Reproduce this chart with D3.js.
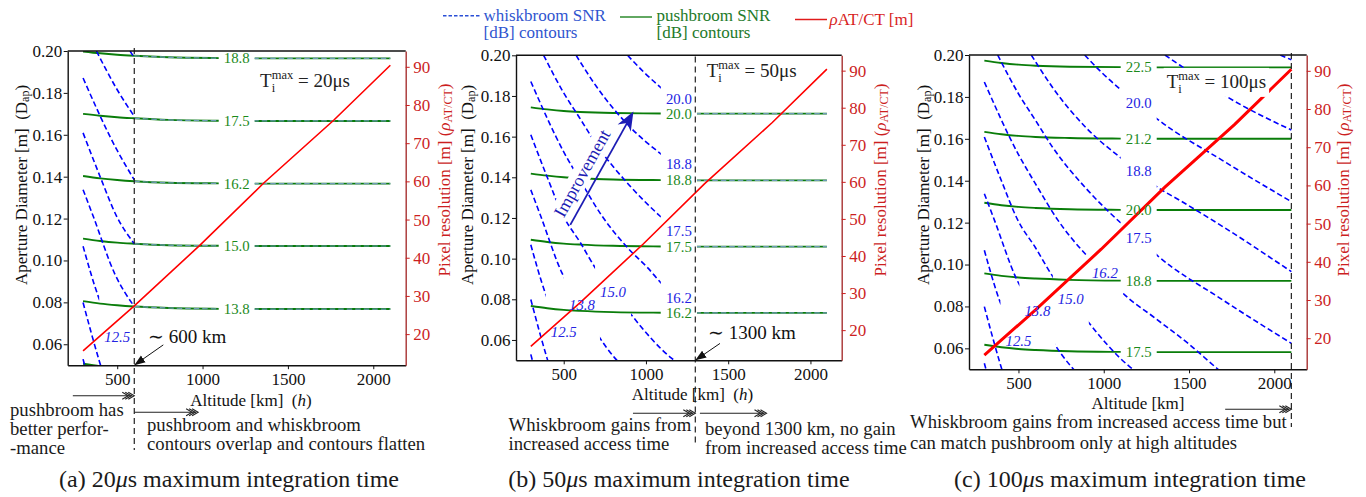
<!DOCTYPE html>
<html>
<head>
<meta charset="utf-8">
<script src="https://cdn.jsdelivr.net/npm/d3@7"></script>
<style>
  body { margin: 0; background: #fff; }
  svg text { font-family: "Liberation Serif", "Times New Roman", serif; }
</style>
</head>
<body>
<svg id="chart" width="1366" height="497"></svg>
<script>
// ---- data ----
const altitudeTicks = [500, 1000, 1500, 2000];
const diameterTicks = [0.06, 0.08, 0.10, 0.12, 0.14, 0.16, 0.18, 0.20];
const resolutionTicks = [20, 30, 40, 50, 60, 70, 80, 90];

const redAltitude = [300, 600, 985, 1357, 1768, 2100];
const redResolution = [15.6, 27.4, 43.3, 59.5, 76.0, 90.4];

const levels = [10, 11.25, 12.5, 13.75, 15, 16.25, 17.5, 18.75, 20, 21.25, 22.5];
const levelText = ['10.0', '11.2', '12.5', '13.8', '15.0', '16.2', '17.5', '18.8', '20.0', '21.2', '22.5'];

// whiskbroom SNR contours [altitude km, aperture m] before the access-time cap
const whisk10 = [[300, 0.0529], [320, 0.0468]];
const whisk11 = [[300, 0.0799], [398, 0.0512], [410, 0.0480]];
const whisk12 = [[300, 0.1068], [388, 0.0831], [500, 0.0636], [600, 0.0480]];
const whisk13 = [[300, 0.1338], [359, 0.1212], [487, 0.0934], [600, 0.0780], [702, 0.0632], [810, 0.0512], [840, 0.0485]];
const whisk15 = [[300, 0.1609], [400, 0.1400], [496, 0.1212], [600, 0.1080], [702, 0.0942], [807, 0.0835], [908, 0.0727], [1153, 0.0512], [1180, 0.0495]];
const whisk16 = [[300, 0.1871], [500, 0.1525], [600, 0.1385], [731, 0.1212], [898, 0.1045], [1007, 0.0958], [1104, 0.0870], [1300, 0.0745], [1500, 0.0620], [1663, 0.0505], [1700, 0.0480]];
const whisk17 = [[378, 0.2000], [500, 0.1815], [600, 0.1688], [700, 0.1560], [900, 0.1360], [1094, 0.1203], [1205, 0.1125], [1300, 0.1053], [1700, 0.0830], [2100, 0.0624]];
const whisk18 = [[575, 0.2000], [600, 0.1968], [700, 0.1845], [900, 0.1650], [1094, 0.1513], [1205, 0.1446], [1300, 0.1378], [1447, 0.1306], [1700, 0.1180], [2100, 0.0966]];
const whisk20 = [[888, 0.2000], [990, 0.1915], [1094, 0.1839], [1205, 0.1770], [1300, 0.1704], [1700, 0.1495], [2100, 0.1300]];
const whisk21 = [[1359, 0.2000], [1447, 0.1951], [1722, 0.1801], [2100, 0.1642]];
const whisk22 = [[2035, 0.2000], [2100, 0.1977]];
const whiskCurves = [whisk10, whisk11, whisk12, whisk13, whisk15, whisk16, whisk17, whisk18, whisk20, whisk21, whisk22];

// pushbroom SNR contours, aperture at each altitude
const pushAltitude = [300, 400, 500, 600, 800, 1100, 1300, 2100];
const pushLevelsA = [12.5, 13.75, 15, 16.25, 17.5, 18.75];
const pushDiamA = [
  [0.0507, 0.0495, 0.0487, 0.0482, 0.0475, 0.0471, 0.0470, 0.0470],
  [0.0806, 0.0794, 0.0786, 0.0780, 0.0773, 0.0769, 0.0768, 0.0768],
  [0.1104, 0.1093, 0.1085, 0.1080, 0.1073, 0.1070, 0.1069, 0.1069],
  [0.1403, 0.1392, 0.1384, 0.1378, 0.1371, 0.1368, 0.1367, 0.1367],
  [0.1700, 0.1691, 0.1684, 0.1679, 0.1671, 0.1667, 0.1666, 0.1666],
  [0.1998, 0.1989, 0.1982, 0.1977, 0.1970, 0.1966, 0.1965, 0.1965]
];
const pushLevelsB = [16.25, 17.5, 18.75, 20];
const pushDiamB = [
  [0.0767, 0.0756, 0.0748, 0.0743, 0.0737, 0.0734, 0.0733, 0.0733],
  [0.1093, 0.1082, 0.1074, 0.1069, 0.1063, 0.1060, 0.1059, 0.1059],
  [0.1418, 0.1408, 0.1400, 0.1395, 0.1389, 0.1386, 0.1385, 0.1385],
  [0.1744, 0.1734, 0.1726, 0.1721, 0.1716, 0.1714, 0.1713, 0.1713]
];
const pushLevelsC = [17.5, 18.75, 20, 21.25, 22.5];
const pushDiamC = [
  [0.0617, 0.0605, 0.0597, 0.0592, 0.0586, 0.0583, 0.0582, 0.0582],
  [0.0958, 0.0946, 0.0938, 0.0933, 0.0927, 0.0923, 0.0922, 0.0922],
  [0.1295, 0.1283, 0.1275, 0.1270, 0.1264, 0.1261, 0.1260, 0.1260],
  [0.1633, 0.1622, 0.1614, 0.1609, 0.1604, 0.1601, 0.1600, 0.1600],
  [0.1973, 0.1962, 0.1954, 0.1949, 0.1944, 0.1942, 0.1941, 0.1941]
];

// whiskbroom inline labels [level, altitude, aperture]
const whiskLabelsA = [[12.5, 500, 0.0637]];
const whiskLabelsB = [[12.5, 500, 0.0639], [13.75, 611, 0.0772], [15, 800, 0.0836], [16.25, 1200, 0.0808],
  [17.5, 1200, 0.1134], [18.75, 1200, 0.1465], [20, 1200, 0.1785]];
const whiskLabelsC = [[12.5, 500, 0.0636], [13.75, 611, 0.0780], [15, 807, 0.0835], [16.25, 1007, 0.0958],
  [17.5, 1205, 0.1125], [18.75, 1205, 0.1446], [20, 1205, 0.1770]];

const altDomain = [210, 2190], diamDomain = [0.05, 0.20], resDomain = [11.86, 94.14];
const serif = '"Liberation Serif", "Times New Roman", serif';
const W = 1366, H = 497;

const panels = [
  { key: 'a', box: [67.7, 51, 405.7, 365.2], cap: 600, pushLevels: pushLevelsA, pushDiam: pushDiamA, pushLabelAlt: 1200,
    whiskLabels: whiskLabelsA, tAt: [1337, 0.1827], tVal: '20μs', redWidth: 1.6, yTitleX: 21, y2TitleX: 443.5,
    vline: [48, 450], xTitle: [251, 406, true], caption: [229, '(a) 20', 's maximum integration time'] },
  { key: 'b', box: [516, 55.3, 841.7, 360.3], cap: 1300, pushLevels: pushLevelsB, pushDiam: pushDiamB, pushLabelAlt: 1200,
    whiskLabels: whiskLabelsB, tAt: [1369, 0.1892], tVal: '50μs', redWidth: 1.6, yTitleX: 466.5, y2TitleX: 879.5,
    vline: [56.5, 445], xTitle: [692.5, 399.5, true], caption: [679, '(b) 50', 's maximum integration time'] },
  { key: 'c', box: [969, 55, 1306.7, 369.3], cap: Infinity, pushLevels: pushLevelsC, pushDiam: pushDiamC, pushLabelAlt: 1205,
    whiskLabels: whiskLabelsC, tAt: [1369, 0.1843], tVal: '100μs', redWidth: 3, yTitleX: 923, y2TitleX: 1342.5,
    vline: [53, 427], xTitle: [1138, 409, false], caption: [1130, '(c) 100', 's maximum integration time'] }
];

const svg = d3.select('#chart');
const defs = svg.append('defs');

defs.append('marker').attr('id', 'headK').attr('viewBox', '0 0 10 10')
  .attr('refX', 10).attr('refY', 5).attr('markerWidth', 11).attr('markerHeight', 11)
  .attr('markerUnits', 'userSpaceOnUse').attr('orient', 'auto')
  .append('path').attr('d', 'M0,1.3L10,5L0,8.7Z').attr('fill', '#111');

function chevronArrow(g, x1, x2, y) {
  g.append('line').attr('x1', x1).attr('x2', x2 - 2).attr('y1', y).attr('y2', y)
    .attr('stroke', '#222').attr('stroke-width', 1.1);
  for (let i = 0; i < 3; i++) {
    const t = x2 - i * 3;
    g.append('path').attr('d', `M${t - 6},${y - 3.5}L${t},${y}L${t - 6},${y + 3.5}`)
      .attr('fill', 'none').attr('stroke', '#222').attr('stroke-width', 1.1);
  }
}

function multiLine(g, x, y0, step, lines, size) {
  lines.forEach((s, i) => g.append('text').attr('x', x).attr('y', y0 + i * step)
    .attr('font-size', size).attr('fill', '#1a1a1a').text(s));
}

panels.forEach(p => {
  const [L, T, R, B] = p.box;
  const x = d3.scaleLinear().domain(altDomain).range([L, R]);
  const y = d3.scaleLinear().domain(diamDomain).range([B, T]);
  const y2 = d3.scaleLinear().domain(resDomain).range([B, T]);
  const line = d3.line().x(d => x(d[0])).y(d => y(d[1])).curve(d3.curveMonotoneX);
  const g = svg.append('g');

  defs.append('clipPath').attr('id', 'clip-' + p.key)
    .append('rect').attr('x', L).attr('y', T).attr('width', R - L).attr('height', B - T);

  // labels for this panel
  const pushLabels = p.pushLevels.map((lv, i) => ({ lv, h: p.pushLabelAlt, d: p.pushDiam[i][p.pushDiam[i].length - 1], kind: 'push' }))
    .filter(l => l.d > diamDomain[0] + 0.003 && l.d < diamDomain[1]);
  const whiskLabels = p.whiskLabels.map(l => ({ lv: l[0], h: l[1], d: l[2], kind: 'whisk' }));
  const allLabels = pushLabels.concat(whiskLabels);

  // one mask per level: gaps where its inline labels sit
  levels.forEach((lv, li) => {
    const m = defs.append('mask').attr('id', `m-${p.key}-${li}`).attr('maskUnits', 'userSpaceOnUse')
      .attr('x', 0).attr('y', 0).attr('width', W).attr('height', H);
    m.append('rect').attr('width', W).attr('height', H).attr('fill', 'white');
    allLabels.filter(l => l.lv === lv).forEach(l => {
      const hh = l.kind === 'whisk' ? 40 : 12;
      m.append('rect').attr('x', x(l.h) - 18).attr('y', y(l.d) - hh).attr('width', 36).attr('height', 2 * hh).attr('fill', 'black');
    });
  });

  const plot = g.append('g').attr('clip-path', `url(#clip-${p.key})`);

  // pushbroom contours
  p.pushLevels.forEach((lv, i) => {
    const li = levels.indexOf(lv);
    plot.append('path').attr('d', line(pushAltitude.map((h, k) => [h, p.pushDiam[i][k]])))
      .attr('fill', 'none').attr('stroke', '#0a7d0a').attr('stroke-width', 1.9)
      .attr('mask', `url(#m-${p.key}-${li})`);
  });

  // whiskbroom contours
  whiskCurves.forEach((curve, li) => {
    const lv = levels[li];
    const head = curve.filter(d => d[0] <= p.cap);
    if (head.length > 1) {
      plot.append('path').attr('d', line(head)).attr('fill', 'none')
        .attr('stroke', '#0000ff').attr('stroke-width', 1.6).attr('stroke-dasharray', '5.5,3')
        .attr('mask', `url(#m-${p.key}-${li})`);
    }
    const pi = p.pushLevels.indexOf(lv);
    if (p.cap < 2100 && pi >= 0) {
      const tail = pushAltitude.map((h, k) => [h, p.pushDiam[pi][k]]).filter(d => d[0] >= p.cap);
      plot.append('path').attr('d', line(tail)).attr('fill', 'none')
        .attr('stroke', '#7f9fd8').attr('stroke-width', 1.2).attr('stroke-dasharray', '5.5,3')
        .attr('opacity', 0.85).attr('mask', `url(#m-${p.key}-${li})`);
    }
  });

  // inline labels
  allLabels.forEach(l => {
    g.append('text').attr('x', x(l.h)).attr('y', y(l.d)).attr('text-anchor', 'middle')
      .attr('dominant-baseline', 'central').attr('font-size', 14.8)
      .attr('font-style', l.kind === 'whisk' && l.h < 1100 ? 'italic' : 'normal')
      .attr('fill', l.kind === 'whisk' ? '#2323e2' : '#1b8a1b')
      .text(levelText[levels.indexOf(l.lv)]);
  });

  // pixel resolution line
  const redLine = d3.line().x(d => x(d[0])).y(d => y2(d[1]));
  plot.append('path').attr('d', redLine(redAltitude.map((h, i) => [h, redResolution[i]])))
    .attr('fill', 'none').attr('stroke', '#ff0000').attr('stroke-width', p.redWidth);

  // access-time boundary
  const capAlt = p.key === 'a' ? 600 : p.key === 'b' ? 1300 : 2100;
  g.append('line').attr('x1', x(capAlt)).attr('x2', x(capAlt)).attr('y1', p.vline[0]).attr('y2', p.vline[1])
    .attr('stroke', '#222').attr('stroke-width', 1.2).attr('stroke-dasharray', '6,4');

  // Ti max text with white box
  const tt = g.append('text').attr('x', x(p.tAt[0])).attr('y', y(p.tAt[1])).attr('font-size', 19).attr('fill', '#222');
  tt.append('tspan').text('T');
  tt.append('tspan').attr('font-size', 12.5).attr('dy', 5).text('i');
  tt.append('tspan').attr('font-size', 12.5).attr('dx', -3.5).attr('dy', -13).text('max');
  tt.append('tspan').attr('dy', 8).style('white-space', 'pre').text(' = ' + p.tVal);
  const tb = tt.node().getBBox();
  g.insert('rect', () => tt.node()).attr('x', tb.x - 3).attr('y', tb.y - 1).attr('width', tb.width + 6)
    .attr('height', tb.height + 2).attr('fill', '#fff');

  // axes
  const axL = d3.axisLeft(y).tickValues(diameterTicks).tickFormat(d3.format('.2f')).tickSize(4).tickPadding(1.5).tickSizeOuter(0);
  const axB = d3.axisBottom(x).tickValues(altitudeTicks).tickFormat(d3.format('d')).tickSize(4).tickPadding(4).tickSizeOuter(0);
  const axR = d3.axisRight(y2).tickValues(resolutionTicks).tickSize(4).tickPadding(3.5).tickSizeOuter(0);
  const gl = g.append('g').attr('transform', `translate(${L},0)`).call(axL);
  const gb = g.append('g').attr('transform', `translate(0,${B})`).call(axB);
  const gr = g.append('g').attr('transform', `translate(${R},0)`).call(axR);
  [gl, gb].forEach(a => a.attr('font-family', serif).attr('font-size', 17).attr('color', '#111'));
  gr.attr('font-family', serif).attr('font-size', 17).attr('color', '#cc1f1f');
  gr.select('.domain').attr('stroke', '#a83232');
  [gl, gb, gr].forEach(a => a.selectAll('.domain').attr('stroke-width', 1.4));
  g.append('line').attr('x1', L).attr('x2', R).attr('y1', T).attr('y2', T).attr('stroke', '#111').attr('stroke-width', 1.4);

  // axis titles
  const yt = g.append('text').attr('transform', `translate(${p.yTitleX},185) rotate(-90)`)
    .attr('text-anchor', 'middle').attr('dominant-baseline', 'central').attr('font-size', 17)
    .attr('fill', '#111').style('white-space', 'pre');
  yt.append('tspan').text('Aperture Diameter [m]  (D');
  yt.append('tspan').attr('font-size', 12).attr('dy', 4).text('ap');
  yt.append('tspan').attr('dy', -4).text(')');

  const rt = g.append('text').attr('transform', `translate(${p.y2TitleX},180) rotate(-90)`)
    .attr('text-anchor', 'middle').attr('dominant-baseline', 'central').attr('font-size', 17)
    .attr('fill', '#cc1f1f').style('white-space', 'pre');
  rt.append('tspan').text('Pixel resolution [m] (');
  rt.append('tspan').attr('font-style', 'italic').text('ρ');
  rt.append('tspan').attr('font-size', 12).attr('dy', 4).text('AT/CT');
  rt.append('tspan').attr('dy', -4).text(')');

  const xt = g.append('text').attr('x', p.xTitle[0]).attr('y', p.xTitle[1]).attr('text-anchor', 'middle')
    .attr('font-size', 17).attr('fill', '#111').style('white-space', 'pre');
  xt.append('tspan').text(p.xTitle[2] ? 'Altitude [km]  (' : 'Altitude [km]');
  if (p.xTitle[2]) {
    xt.append('tspan').attr('font-style', 'italic').text('h');
    xt.append('tspan').text(')');
  }

  // caption
  const cap = g.append('text').attr('x', p.caption[0]).attr('y', 487).attr('text-anchor', 'middle')
    .attr('font-size', 24).attr('fill', '#1a1a1a');
  cap.append('tspan').text(p.caption[1]);
  cap.append('tspan').attr('font-style', 'italic').text('μ');
  cap.append('tspan').text(p.caption[2]);

  // panel-specific annotations
  if (p.key === 'a') {
    g.append('text').attr('x', x(680)).attr('y', y(0.0607)).attr('font-size', 19).attr('fill', '#111').text('∼ 600 km');
    g.append('line').attr('x1', x(770)).attr('y1', y(0.0597)).attr('x2', x(600)).attr('y2', B)
      .attr('stroke', '#111').attr('stroke-width', 1).attr('marker-end', 'url(#headK)');
    chevronArrow(g, x(240), x(600), 395.7);
    chevronArrow(g, x(600), x(974), 412.3);
    multiLine(g, 10, 416, 19, ['pushbroom has', 'better perfor-', '-mance'], 18.7);
    multiLine(g, 147, 431, 18.5, ['pushbroom and whiskbroom', 'contours overlap and contours flatten'], 18.7);
  }
  if (p.key === 'b') {
    // improvement arrow with boxed text
    const s = [x(540), y(0.1166)], e = [x(924), y(0.1723)];
    const ang = Math.atan2(e[1] - s[1], e[0] - s[0]) * 180 / Math.PI;
    const tg = g.append('g').attr('transform', `translate(${x(612)},${y(0.142)}) rotate(${ang})`);
    const it = tg.append('text').attr('text-anchor', 'middle').attr('dominant-baseline', 'central')
      .attr('font-size', 18).attr('fill', '#1c1cb4').text('Improvement');
    const ib = it.node().getBBox();
    tg.insert('rect', () => it.node()).attr('x', ib.x - 2).attr('y', ib.y).attr('width', ib.width + 4)
      .attr('height', ib.height).attr('fill', '#fff');
    const len = Math.hypot(e[0] - s[0], e[1] - s[1]);
    const ag = g.append('g').attr('transform', `translate(${s[0]},${s[1]}) rotate(${ang})`);
    ag.append('line').attr('x1', 0).attr('y1', 0).attr('x2', len - 12).attr('y2', 0)
      .attr('stroke', '#1c1cb4').attr('stroke-width', 1.8);
    ag.append('path').attr('d', `M${len},0L${len - 19},-7.5L${len - 13},0L${len - 19},7.5Z`).attr('fill', '#1c1cb4');

    g.append('text').attr('x', x(1377)).attr('y', y(0.0604)).attr('font-size', 19).attr('fill', '#111').text('∼ 1300 km');
    g.append('line').attr('x1', x(1450)).attr('y1', y(0.0583)).attr('x2', x(1300)).attr('y2', B)
      .attr('stroke', '#111').attr('stroke-width', 1).attr('marker-end', 'url(#headK)');
    chevronArrow(g, x(921), x(1300), 413.3);
    chevronArrow(g, x(1328), x(1733), 413.3);
    multiLine(g, 508.5, 431, 18.5, ['Whiskbroom gains from', 'increased access time'], 18.7);
    multiLine(g, 705, 435, 18.5, ['beyond 1300 km, no gain', 'from increased access time'], 18.7);
  }
  if (p.key === 'c') {
    chevronArrow(g, x(1712), x(2100), 409.3);
    multiLine(g, 910, 428, 21, ['Whiskbroom gains from increased access time but', 'can match pushbroom only at high altitudes'], 18.7);
  }
});

// legend
const lg = svg.append('g');
lg.append('line').attr('x1', 443).attr('x2', 481).attr('y1', 15.7).attr('y2', 15.7)
  .attr('stroke', '#2a4fd6').attr('stroke-width', 1.5).attr('stroke-dasharray', '3.5,2');
multiLineColored(483.5, 20.5, ['whiskbroom SNR', '[dB] contours'], '#2f55cf');
lg.append('line').attr('x1', 620).attr('x2', 652).attr('y1', 17).attr('y2', 17)
  .attr('stroke', '#2e8b2e').attr('stroke-width', 1.5);
multiLineColored(656.5, 20.5, ['pushbroom SNR', '[dB] contours'], '#237a2a');
lg.append('line').attr('x1', 795).attr('x2', 827).attr('y1', 19.5).attr('y2', 19.5)
  .attr('stroke', '#e01b1b').attr('stroke-width', 1.5);
const rl = lg.append('text').attr('x', 829.5).attr('y', 25).attr('font-size', 17).attr('fill', '#d81f1f');
rl.append('tspan').attr('font-style', 'italic').text('ρ');
rl.append('tspan').text('AT/CT [m]');

function multiLineColored(x0, y0, lines, col) {
  lines.forEach((s, i) => lg.append('text').attr('x', x0).attr('y', y0 + i * 17)
    .attr('font-size', 17).attr('fill', col).text(s));
}
</script>
</body>
</html>
